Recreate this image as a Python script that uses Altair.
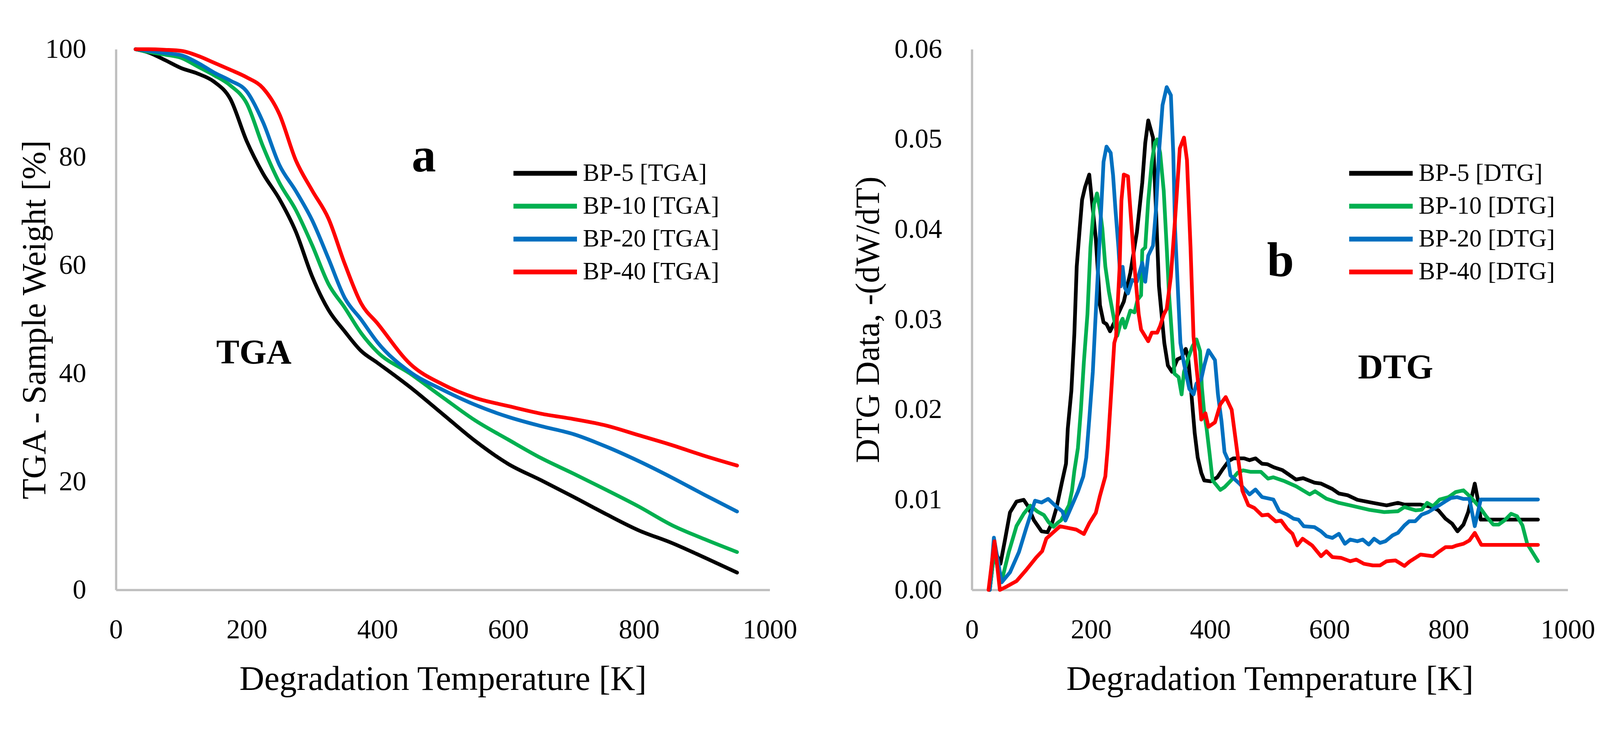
import altair as alt
import pandas as pd

# TGA curves, weight % at each temperature
tga_temp = [30, 50, 75, 100, 125, 150, 175, 200, 225, 250, 275, 300, 325, 350, 375,
            400, 450, 500, 550, 600, 650, 700, 750, 800, 850, 900, 950]
tga_bp5 = [100, 99.4, 98, 96.5, 95.5, 94, 90.8, 83, 77, 72.3, 66.3, 58, 51.8, 47.8, 44.2,
           42, 37.5, 32.5, 27.5, 23.3, 20.3, 17.2, 14, 11, 8.7, 6, 3.2]
tga_bp10 = [100, 99.5, 99, 98.4, 96.8, 95.2, 93.3, 90, 82, 75.3, 70.3, 63.8, 56.6, 52.2, 47.5,
            44, 40, 35.6, 31.3, 27.8, 24.4, 21.5, 18.5, 15.4, 12, 9.4, 7]
tga_bp20 = [100, 99.7, 99.3, 98.9, 97.5, 95.7, 94.2, 92.2, 86.5, 78.6, 73.8, 68.4, 61.3, 54, 50,
            45.8, 40.3, 37, 34.2, 32, 30.3, 28.8, 26.5, 23.8, 20.8, 17.6, 14.5]
tga_bp40 = [100, 100, 99.9, 99.7, 98.8, 97.5, 96.2, 94.8, 92.8, 88, 79.5, 73.9, 68.7, 60.3, 53,
            49.3, 41.8, 38, 35.5, 34, 32.6, 31.6, 30.4, 28.6, 26.8, 24.8, 23]

# DTG curves, (temperature, -dW/dT x 1000)
dtg_bp5 = [(30, 0), (38, 4.5), (48, 2.9), (56, 5.7), (64, 8.6), (75, 9.8), (87, 10.0), (94, 9.3),
           (104, 7.75), (117, 6.5), (127, 6.4), (135, 7.5), (142, 9.1), (151, 11.9), (158, 14.0),
           (161, 17.9), (167, 22.1), (172, 28.4), (176, 35.9), (181, 40.1), (185, 43.3), (190, 44.7),
           (197, 46.1), (201, 43.5), (208, 39.0), (212, 34.8), (215, 31.6), (221, 29.7), (226, 29.5),
           (232, 28.7), (244, 30.4), (255, 32.0), (266, 35.2), (277, 39.7), (286, 45.2), (291, 49.6),
           (296, 52.1), (304, 50.2), (309, 42.2), (314, 33.7), (323, 27.4), (329, 24.9), (336, 24.2),
           (345, 25.6), (352, 25.8), (359, 26.75), (363, 25.7), (368, 22.1), (374, 17.4), (379, 14.7),
           (385, 13.0), (390, 12.15), (401, 12.05), (412, 12.5), (421, 13.4), (431, 14.3), (439, 14.6),
           (457, 14.6), (466, 14.4), (476, 14.6), (487, 14.0), (496, 13.95), (507, 13.6), (521, 13.3),
           (544, 12.25), (556, 12.4), (575, 11.9), (586, 11.8), (605, 11.2), (616, 10.7), (631, 10.5),
           (647, 10.0), (673, 9.66), (696, 9.38), (715, 9.66), (726, 9.47), (753, 9.47), (772, 9.2),
           (783, 8.83), (795, 7.9), (806, 7.35), (815, 6.5), (825, 7.25), (833, 8.64), (844, 11.8),
           (850, 9.75), (854, 7.8), (900, 7.8), (950, 7.8)]
dtg_bp10 = [(30, 0), (38, 4.5), (46, 1.2), (52, 1.5), (62, 4.2), (75, 7.1), (87, 8.45), (98, 9.35),
            (110, 8.7), (121, 8.3), (129, 7.5), (137, 7.0), (145, 7.5), (150, 7.75), (163, 9.4),
            (168, 11.0), (172, 13.2), (178, 15.75), (183, 20.0), (188, 25.3), (194, 30.6), (199, 38.0),
            (205, 42.8), (210, 44.0), (215, 42.2), (219, 40.1), (224, 35.9), (230, 33.1), (237, 30.6),
            (244, 28.2), (250, 29.7), (253, 30.1), (257, 29.1), (266, 31.0), (273, 30.8), (278, 32.2),
            (284, 32.7), (286, 37.7), (291, 38.0), (296, 43.2), (302, 47.5), (307, 49.6), (311, 50.0),
            (316, 48.5), (322, 44.3), (327, 38.0), (331, 32.7), (336, 28.0), (340, 24.0), (347, 23.6),
            (352, 21.7), (356, 24.2), (363, 25.7), (370, 27.0), (377, 27.8), (383, 26.5), (386, 22.5),
            (390, 19.6), (394, 17.9), (399, 15.1), (404, 12.15), (417, 11.1), (424, 11.4), (435, 12.15),
            (446, 13.0), (455, 13.27), (468, 13.1), (485, 13.1), (497, 12.35), (506, 12.5), (525, 12.06),
            (544, 11.5), (567, 10.6), (576, 10.95), (595, 10.12), (616, 9.66), (635, 9.38), (666, 8.9),
            (692, 8.64), (715, 8.73), (726, 9.2), (745, 8.83), (755, 8.9), (764, 9.66), (774, 9.29),
            (785, 10.03), (800, 10.3), (812, 10.86), (825, 11.05), (837, 10.3), (852, 9.2), (863, 8.18),
            (875, 7.25), (884, 7.25), (894, 7.72), (905, 8.45), (915, 8.18), (924, 7.16), (932, 5.12),
            (950, 3.2)]
dtg_bp20 = [(30, 0), (37, 5.8), (50, 0.84), (64, 1.95), (79, 4.2), (91, 6.8), (106, 9.9), (117, 9.7),
            (128, 10.1), (140, 9.35), (152, 8.7), (157, 7.7), (171, 9.83), (178, 10.9), (187, 12.6),
            (192, 14.7), (197, 18.9), (203, 24.2), (207, 29.5), (212, 35.85), (217, 42.2), (221, 47.5),
            (226, 49.2), (233, 48.5), (237, 46.0), (241, 42.2), (246, 38.0), (250, 33.7), (253, 35.85),
            (257, 33.5), (262, 32.9), (269, 34.4), (277, 34.2), (286, 36.3), (291, 34.2), (296, 37.1),
            (304, 38.2), (309, 42.2), (314, 48.5), (320, 53.8), (327, 55.8), (334, 54.9), (338, 48.5),
            (341, 40.1), (347, 31.6), (350, 27.4), (356, 25.1), (365, 22.3), (372, 21.7), (377, 22.9),
            (385, 23.4), (390, 24.9), (397, 26.6), (408, 25.5), (413, 21.7), (419, 18.7), (424, 15.3),
            (430, 14.4), (434, 12.7), (449, 11.8), (466, 10.6), (476, 11.14), (487, 10.3), (506, 10.03),
            (516, 8.73), (529, 8.36), (540, 7.9), (548, 7.8), (557, 7.07), (575, 6.97), (586, 6.5),
            (595, 5.96), (605, 5.77), (616, 6.23), (626, 5.12), (635, 5.59), (647, 5.4), (656, 5.59),
            (666, 5.03), (675, 5.68), (685, 5.22), (694, 5.4), (706, 6.05), (715, 6.33), (726, 7.16),
            (734, 7.62), (744, 7.62), (755, 8.36), (766, 8.64), (782, 9.29), (795, 9.84), (804, 10.2),
            (814, 10.3), (825, 10.1), (835, 10.1), (844, 7.07), (854, 10.03), (950, 10.03)]
dtg_bp40 = [(28, 0), (38, 5.4), (47, 0), (58, 0.36), (75, 0.98), (91, 2.2), (108, 3.6), (118, 4.3),
            (125, 5.7), (148, 7.06), (175, 6.7), (188, 6.2), (197, 7.4), (208, 8.55), (215, 10.45),
            (224, 12.6), (228, 15.75), (233, 21.0), (239, 27.4), (242, 28.1), (248, 35.85), (251, 43.2),
            (255, 46.1), (262, 45.9), (266, 42.2), (273, 35.85), (280, 30.6), (284, 28.9), (296, 27.6),
            (302, 28.55), (311, 28.55), (316, 29.3), (322, 30.56), (327, 31.2), (334, 34.8), (341, 41.1),
            (349, 49.0), (356, 50.2), (361, 47.7), (367, 38.0), (372, 28.1), (376, 25.3), (381, 22.1),
            (385, 18.9), (392, 19.6), (397, 18.1), (408, 18.6), (417, 20.6), (426, 21.4), (436, 20.0),
            (442, 17.0), (448, 14.0), (454, 11.0), (464, 9.4), (474, 9.1), (487, 8.27), (497, 8.36),
            (510, 7.6), (519, 7.7), (529, 6.79), (538, 6.23), (546, 4.94), (555, 5.68), (571, 4.94),
            (578, 4.38), (586, 3.74), (595, 4.29), (605, 3.64), (620, 3.55), (635, 3.18), (645, 3.37),
            (658, 2.9), (673, 2.72), (685, 2.72), (696, 3.18), (711, 3.27), (726, 2.66), (734, 3.12),
            (753, 3.92), (764, 3.83), (774, 3.74), (783, 4.2), (795, 4.75), (806, 4.75), (814, 4.94),
            (825, 5.12), (835, 5.49), (844, 6.33), (855, 5.0), (950, 5.0)]

samples = ["BP-5", "BP-10", "BP-20", "BP-40"]
colors = ["#000000", "#00B050", "#0070C0", "#FF0000"]
tga_names = [s + " [TGA]" for s in samples]
dtg_names = [s + " [DTG]" for s in samples]

FONT = "Liberation Serif"

rows = []
for name, vals in zip(tga_names, [tga_bp5, tga_bp10, tga_bp20, tga_bp40]):
    for t, w in zip(tga_temp, vals):
        rows.append({"T": t, "W": w, "series": name})
tga = pd.DataFrame(rows)

rows = []
for name, pts in zip(dtg_names, [dtg_bp5, dtg_bp10, dtg_bp20, dtg_bp40]):
    for t, d in pts:
        rows.append({"T": t, "D": d / 1000, "series": name})
dtg = pd.DataFrame(rows)

tga_notes = pd.DataFrame({"T": [471, 211], "W": [77.4, 41.9], "txt": ["a", "TGA"], "size": [130, 93]})
dtg_notes = pd.DataFrame({"T": [518, 711], "D": [0.0348, 0.0235], "txt": ["b", "DTG"], "size": [130, 93]})

x_ticks = [0, 200, 400, 600, 800, 1000]


def legend(x):
    return alt.Legend(title=None, orient="none", legendX=x, legendY=297, padding=0,
                      symbolType="M-3,0L3,0", symbolSize=3211, symbolStrokeWidth=13,
                      labelFont=FONT, labelFontSize=66, labelOffset=66, labelLimit=1000,
                      rowPadding=20, labelColor="black")


x_enc = alt.X("T:Q", scale=alt.Scale(domain=[0, 1000], nice=False),
              axis=alt.Axis(values=x_ticks, format="d", labelFlush=False,
                            title="Degradation Temperature [K]"))

tga_lines = alt.Chart(tga).mark_line(strokeWidth=10, strokeCap="round", strokeJoin="round",
                                     interpolate="monotone").encode(
    x=x_enc,
    y=alt.Y("W:Q", scale=alt.Scale(domain=[0, 100]),
            axis=alt.Axis(values=[0, 20, 40, 60, 80, 100], title="TGA - Sample Weight [%]",
                          titlePadding=0)),
    color=alt.Color("series:N", scale=alt.Scale(domain=tga_names, range=colors), legend=legend(1114)),
    detail="series:N",
)
tga_text = alt.Chart(tga_notes).mark_text(font=FONT, fontWeight="bold", baseline="alphabetic",
                                          color="black").encode(
    x="T:Q", y="W:Q", text="txt:N", size=alt.Size("size:Q", scale=None, legend=None))
left = (tga_lines + tga_text).properties(width=1750, height=1447)

dtg_lines = alt.Chart(dtg).mark_line(strokeWidth=10, strokeCap="round", strokeJoin="round").encode(
    x=x_enc,
    y=alt.Y("D:Q", scale=alt.Scale(domain=[0, 0.06]),
            axis=alt.Axis(values=[0, 0.01, 0.02, 0.03, 0.04, 0.05, 0.06], format=".2f",
                          title="DTG Data, -(dW/dT)", titlePadding=49)),
    color=alt.Color("series:N", scale=alt.Scale(domain=dtg_names, range=colors), legend=legend(1060)),
    detail="series:N",
)
dtg_text = alt.Chart(dtg_notes).mark_text(font=FONT, fontWeight="bold", baseline="alphabetic",
                                          color="black").encode(
    x="T:Q", y="D:Q", text="txt:N", size=alt.Size("size:Q", scale=None, legend=None))
right = (dtg_lines + dtg_text).properties(width=1595, height=1447)

chart = (alt.hconcat(left, right, spacing=147)
         .resolve_scale(color="independent")
         .properties(padding={"left": 40, "top": 46, "right": 5, "bottom": 5})
         .configure_view(stroke=None)
         .configure_axis(domainColor="#BFBFBF", domainWidth=6, ticks=False, grid=False,
                         labelFont=FONT, labelFontSize=73, labelColor="black",
                         titleFont=FONT, titleFontWeight="normal", titleColor="black")
         .configure_axisX(labelPadding=71, titlePadding=50, titleFontSize=92)
         .configure_axisY(labelPadding=80, titleFontSize=90, titleBaseline="alphabetic"))

chart.save("out.html", embed_options={"renderer": "svg", "actions": False})
